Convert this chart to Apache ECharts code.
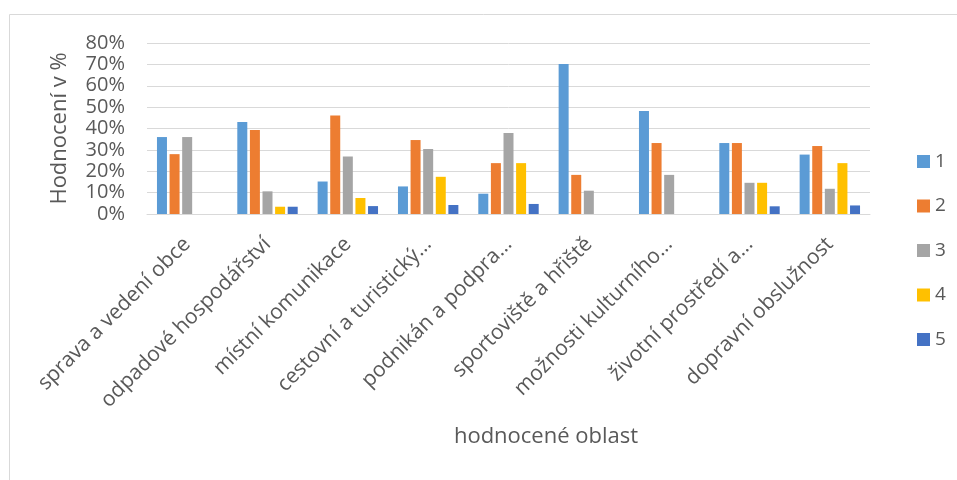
<!DOCTYPE html>
<html>
<head>
<meta charset="utf-8">
<script src="https://cdn.jsdelivr.net/npm/echarts@6/dist/echarts.min.js"></script>
<style>
html,body{margin:0;padding:0;background:#fff;}
#c{width:957px;height:480px;}
</style>
</head>
<body>
<div id="c"></div>
<script>
const categories = [
  'sprava a vedení obce',
  'odpadové hospodářství',
  'místní komunikace',
  'cestovní a turistický…',
  'podnikán a podpra…',
  'sportoviště a hřiště',
  'možnosti kulturního…',
  'životní prostředí a…',
  'dopravní obslužnost'
];
const seriesNames = ['1', '2', '3', '4', '5'];
const s1 = [36, 43, 15.2, 12.9, 9.5, 70.2, 48.2, 33.2, 27.8];
const s2 = [28, 39.3, 46.1, 34.6, 23.8, 18.3, 33.2, 33.2, 31.8];
const s3 = [36, 10.6, 26.9, 30.4, 37.9, 10.9, 18.3, 14.6, 11.8];
const s4 = [0, 3.4, 7.5, 17.4, 23.8, 0, 0, 14.6, 23.8];
const s5 = [0, 3.4, 3.7, 4.2, 4.7, 0, 0, 3.6, 4.0];
const seriesValues = [s1, s2, s3, s4, s5];
const colors = ['#5B9BD5', '#ED7D31', '#A5A5A5', '#FFC000', '#4472C4'];

const font = 'Open Sans';
const txt = '#595959';

const chart = echarts.init(document.getElementById('c'), null, {renderer: 'canvas'});
chart.setOption({
  animation: false,
  color: colors,
  graphic: [{
    type: 'rect',
    shape: {x: 9.5, y: 14.5, width: 1000, height: 1000},
    style: {fill: 'none', stroke: '#d9d9d9', lineWidth: 1},
    silent: true
  }],
  grid: {left: 147, right: 87, top: 43, bottom: 266, containLabel: false},
  legend: {
    orient: 'vertical',
    left: 912,
    top: 147,
    itemWidth: 13,
    itemHeight: 13,
    itemGap: 25.5,
    icon: 'rect',
    textStyle: {fontFamily: font, fontSize: 19, color: txt, lineHeight: 19},
    data: seriesNames
  },
  xAxis: {
    type: 'category',
    data: categories,
    name: 'hodnocené oblast',
    nameLocation: 'middle',
    nameGap: 212,
    nameTextStyle: {fontFamily: font, fontSize: 22, color: txt, padding: [0, 0, 0, 75]},
    axisLine: {lineStyle: {color: '#d9d9d9', width: 1}},
    axisTick: {show: false},
    axisLabel: {rotate: 45, interval: 0, margin: 27, fontFamily: font, fontSize: 21, color: txt}
  },
  yAxis: {
    type: 'value',
    min: 0,
    max: 80,
    interval: 10,
    name: 'Hodnocení v %',
    nameLocation: 'middle',
    nameRotate: 90,
    nameGap: 76,
    nameTextStyle: {fontFamily: font, fontSize: 22, color: txt},
    axisLine: {show: false},
    axisTick: {show: false},
    splitLine: {lineStyle: {color: '#d9d9d9', width: 1}},
    axisLabel: {margin: 22, fontFamily: font, fontSize: 20, color: txt, formatter: v => v + '%'}
  },
  series: seriesNames.map((n, i) => ({
    name: n,
    type: 'bar',
    data: seriesValues[i],
    barWidth: 10,
    barGap: '26%',
    itemStyle: {color: colors[i]}
  }))
});
</script>
</body>
</html>
